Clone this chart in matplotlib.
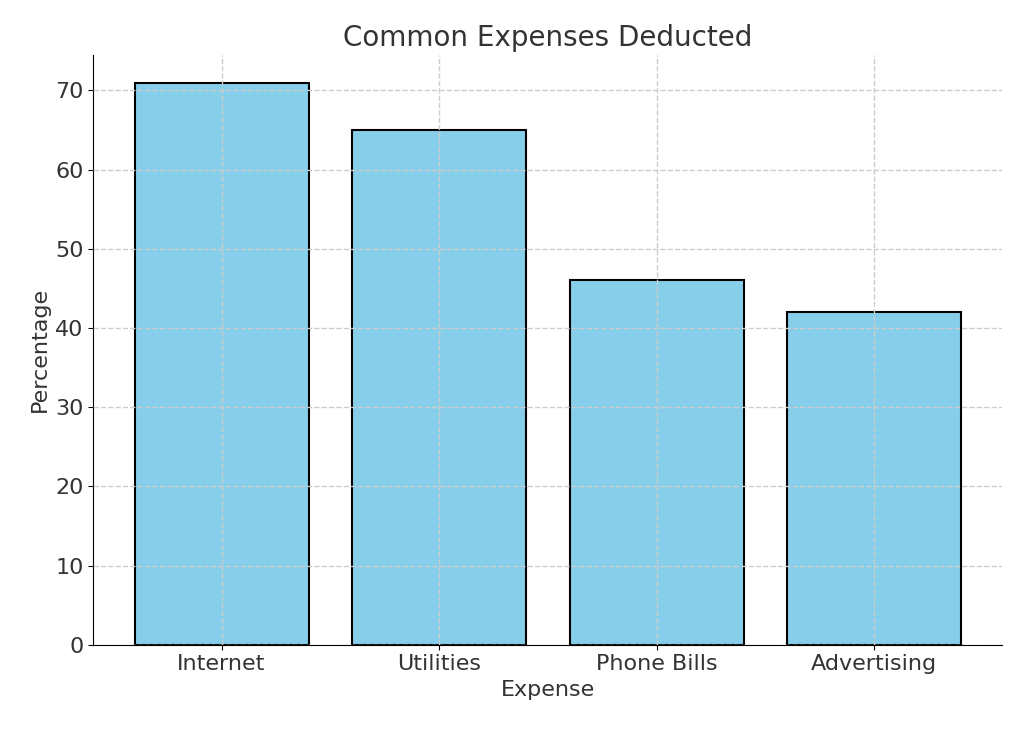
import matplotlib
matplotlib.use("Agg")
from matplotlib import pyplot as plt

expenses = ["Internet", "Utilities", "Phone Bills", "Advertising"]
percentages = [71, 65, 46, 42]

plt.rcParams['font.family'] = ['DejaVu Sans']
fig, ax = plt.subplots(figsize=(10.24, 7.31), dpi=100)
fig.subplots_adjust(left=0.091, right=0.979, top=0.925, bottom=0.118)

ax.bar(expenses, percentages, color="skyblue", edgecolor="black", linewidth=1.5)

ax.set_title("Common Expenses Deducted", fontsize=20, color="#333333")
ax.set_xlabel("Expense", fontsize=16, color="#333333")
ax.set_ylabel("Percentage", fontsize=16, color="#333333")
ax.tick_params(labelsize=16, labelcolor="#333333")
ax.set_ylim(0, 74.5)
ax.set_yticks(range(0, 80, 10))

ax.spines["top"].set_visible(False)
ax.spines["right"].set_visible(False)
ax.grid(True, linestyle="--", color="#cccccc", linewidth=1)
ax.set_axisbelow(False)

fig.savefig("out.png", dpi=100)
